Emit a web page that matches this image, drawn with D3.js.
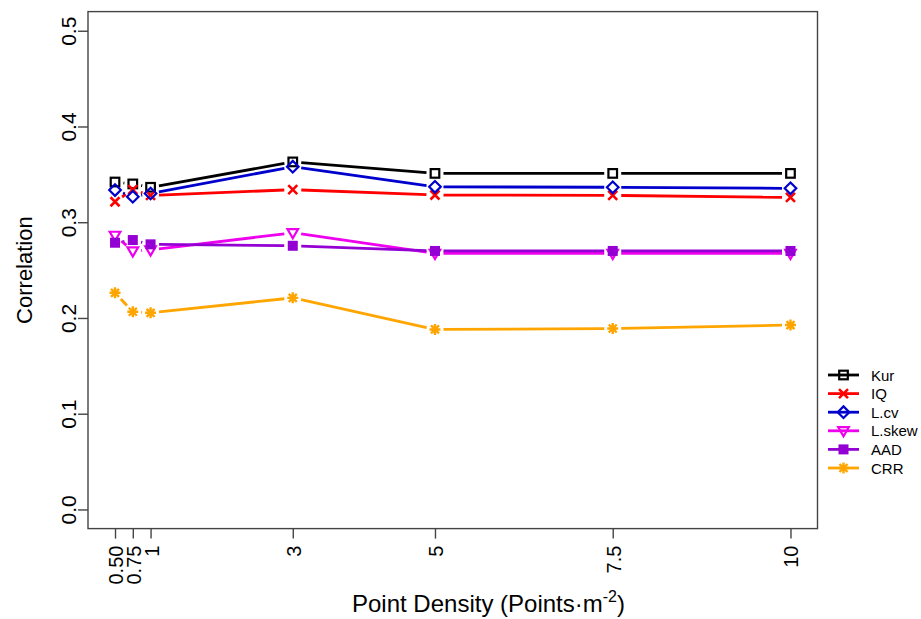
<!DOCTYPE html>
<html>
<head>
<meta charset="utf-8">
<script src="https://cdn.jsdelivr.net/npm/d3@7"></script>
<style>
  html, body { margin: 0; padding: 0; background: #fff; }
  svg { display: block; font-family: "Liberation Sans", Arial, sans-serif; }
</style>
</head>
<body>
<svg id="chart" width="921" height="619"></svg>
<script>
// Point densities (points per square metre) on the x axis
const densities = [0.5, 0.75, 1, 3, 5, 7.5, 10];
const xTickValues = [0.5, 0.75, 1, 3, 5, 7.5, 10];
const xTickLabels = ["0.50", "0.75", "1", "3", "5", "7.5", "10"];
const yTickValues = [0.0, 0.1, 0.2, 0.3, 0.4, 0.5];
const yTickLabels = ["0.0", "0.1", "0.2", "0.3", "0.4", "0.5"];

// Correlation of each metric at each density
const kur   = [0.342, 0.340, 0.3365, 0.363, 0.351, 0.351, 0.351];
const iq    = [0.3214, 0.334, 0.328, 0.334, 0.3284, 0.328, 0.326];
const lcv   = [0.3336, 0.3266, 0.330, 0.358, 0.337, 0.3365, 0.3354];
const lskew = [0.2863, 0.270, 0.271, 0.289, 0.2675, 0.2675, 0.2675];
const aad   = [0.2786, 0.2814, 0.2769, 0.2754, 0.270, 0.270, 0.270];
const crr   = [0.2263, 0.2065, 0.2054, 0.221, 0.188, 0.189, 0.1926];

const seriesNames = ["Kur", "IQ", "L.cv", "L.skew", "AAD", "CRR"];
const seriesValues = [kur, iq, lcv, lskew, aad, crr];
const seriesColors = ["#000000", "#FF0000", "#0000CD", "#EE00EE", "#9400D3", "#FFA500"];
const seriesShapes = ["square", "cross", "diamond", "triangleDown", "squareFilled", "star"];

const svg = d3.select("#chart");

// Plot region (axis limits padded by 4% like base R graphics)
const x = d3.scaleLinear().domain([0.12, 10.38]).range([88, 817.5]);
const y = d3.scaleLinear().domain([-0.02, 0.52]).range([528.6, 11.6]);

const axisColor = "#444";

// Frame around the plot
svg.append("rect")
  .attr("x", x.range()[0]).attr("y", y.range()[1])
  .attr("width", x.range()[1] - x.range()[0])
  .attr("height", y.range()[0] - y.range()[1])
  .attr("fill", "none").attr("stroke", axisColor).attr("stroke-width", 1.4);

// Y axis
const yAxis = d3.axisLeft(y).tickValues(yTickValues)
  .tickFormat((d, i) => yTickLabels[i]).tickSize(10).tickPadding(0);
const gy = svg.append("g").attr("transform", `translate(${x.range()[0]},0)`).call(yAxis);
gy.select(".domain").remove();
gy.selectAll(".tick line").attr("stroke", axisColor).attr("stroke-width", 1.4);
gy.selectAll(".tick text")
  .attr("x", 0).attr("y", 0).attr("dy", 0)
  .attr("transform", "translate(-12,0) rotate(-90)")
  .attr("text-anchor", "middle")
  .attr("fill", "#000")
  .style("font-size", "21px");

// X axis
const xAxis = d3.axisBottom(x).tickValues(xTickValues)
  .tickFormat((d, i) => xTickLabels[i]).tickSize(10).tickPadding(0);
const gx = svg.append("g").attr("transform", `translate(0,${y.range()[0]})`).call(xAxis);
gx.select(".domain").remove();
gx.selectAll(".tick line").attr("stroke", axisColor).attr("stroke-width", 1.4);
gx.selectAll(".tick text")
  .attr("x", 0).attr("y", 0).attr("dy", 0)
  .attr("transform", "translate(7.5,17) rotate(-90)")
  .attr("text-anchor", "end")
  .attr("fill", "#000")
  .style("font-size", "20px");

// Axis titles
svg.append("text")
  .attr("transform", `translate(32,${(y.range()[0] + y.range()[1]) / 2}) rotate(-90)`)
  .attr("text-anchor", "middle")
  .style("font-size", "22px")
  .text("Correlation");

const xt = svg.append("text")
  .attr("x", 352).attr("y", 612)
  .attr("text-anchor", "start")
  .style("font-size", "24px");
xt.append("tspan").text("Point Density (Points\u00B7m");
xt.append("tspan").attr("dy", -10).style("font-size", "16px").text("-2");
xt.append("tspan").attr("dy", 10).text(")");

// Marker glyphs
function drawMarker(g, shape, color) {
  switch (shape) {
    case "square":
      g.append("rect").attr("x", -4.3).attr("y", -4.3).attr("width", 8.6).attr("height", 8.6)
        .attr("fill", "#fff").attr("fill-opacity", 0).attr("stroke", color).attr("stroke-width", 2.2);
      break;
    case "cross":
      g.append("path").attr("d", "M-4.5,-4.5L4.5,4.5M-4.5,4.5L4.5,-4.5")
        .attr("stroke", color).attr("stroke-width", 2.6).attr("fill", "none");
      break;
    case "diamond":
      g.append("path").attr("d", "M0,-5.8L5.8,0L0,5.8L-5.8,0Z")
        .attr("fill", "none").attr("stroke", color).attr("stroke-width", 2.2);
      break;
    case "triangleDown":
      g.append("path").attr("d", "M-5.3,-3.6L5.3,-3.6L0,5.6Z")
        .attr("fill", "none").attr("stroke", color).attr("stroke-width", 2.2);
      break;
    case "squareFilled":
      g.append("rect").attr("x", -5).attr("y", -5).attr("width", 10).attr("height", 10)
        .attr("fill", color).attr("stroke", "none");
      break;
    case "star":
      g.append("path").attr("d", "M-5.5,0L5.5,0M0,-5.5L0,5.5M-4,-4L4,4M-4,4L4,-4")
        .attr("stroke", color).attr("stroke-width", 2.4).attr("fill", "none");
      break;
  }
}

// Series: lines broken around each point, then point markers
const gap = 8.5;
const plot = svg.append("g");
seriesValues.forEach((vals, si) => {
  const color = seriesColors[si];
  const pts = densities.map((d, i) => [x(d), y(vals[i])]);
  const g = plot.append("g");
  for (let i = 0; i < pts.length - 1; i++) {
    const [x0, y0] = pts[i], [x1, y1] = pts[i + 1];
    const dx = x1 - x0, dy = y1 - y0;
    const len = Math.hypot(dx, dy);
    if (len <= 2 * gap) continue;
    const ux = dx / len, uy = dy / len;
    g.append("line")
      .attr("x1", x0 + ux * gap).attr("y1", y0 + uy * gap)
      .attr("x2", x1 - ux * gap).attr("y2", y1 - uy * gap)
      .attr("stroke", color).attr("stroke-width", 2.8).attr("stroke-linecap", "butt");
  }
  pts.forEach(p => {
    drawMarker(g.append("g").attr("transform", `translate(${p[0]},${p[1]})`), seriesShapes[si], color);
  });
});

// Legend
const legend = svg.append("g");
seriesNames.forEach((name, i) => {
  const ly = 375 + i * 18.6;
  const row = legend.append("g").attr("transform", `translate(0,${ly})`);
  row.append("line").attr("x1", 828).attr("x2", 859).attr("y1", 0).attr("y2", 0)
    .attr("stroke", seriesColors[i]).attr("stroke-width", 2.8);
  drawMarker(row.append("g").attr("transform", "translate(843.5,0)"), seriesShapes[i], seriesColors[i]);
  row.append("text").attr("x", 871).attr("y", 5.5)
    .style("font-size", "15px").text(name);
});
</script>
</body>
</html>
